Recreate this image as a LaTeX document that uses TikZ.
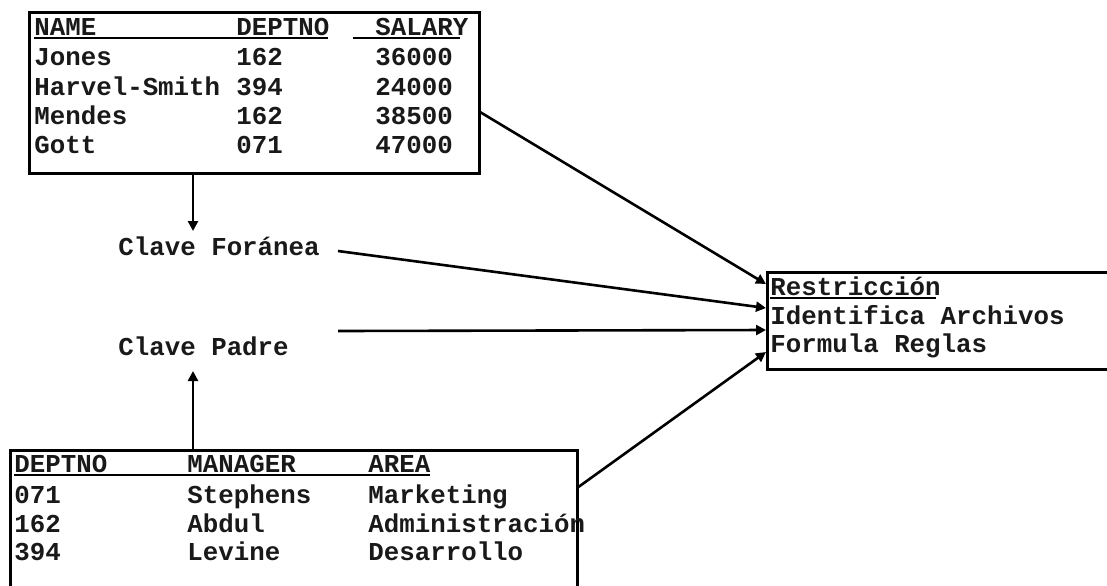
\documentclass[tikz,border=0pt]{standalone}
\usepackage{fontspec}
\setmonofont{Liberation Mono}
\usetikzlibrary{arrows.meta}
\begin{document}
\begin{tikzpicture}[x=0.5pt,y=-0.5pt,
  box/.style={draw=black, line width=1.5pt, rectangle, inner sep=0pt, outer sep=0pt, anchor=north west},
  txt/.style={anchor=base west, inner sep=0pt, font=\ttfamily\bfseries\fontsize{12.9}{14}\selectfont, text=black!90},
  uline/.style={line width=0.8pt},
  conn/.style={line width=1.3pt, -{Triangle[length=5pt,width=5pt]}}]
\useasboundingbox (0,0) rectangle (1107,585);
\clip (0,0) rectangle (1107,585);

% employee table
\node[box, minimum width=225pt, minimum height=80.5pt] (emp) at (29,12) {};
\node[txt] (h1) at (34,35) {NAME};
\node[txt] (h2) at (236,35) {DEPTNO};
\node[txt] (h3) at (375,35) {SALARY};
\draw[uline] (34,38) -- (328,38) (353,38) -- (460,38);
\node[txt] at (34,65) {Jones};        \node[txt] at (236,65) {162}; \node[txt] at (375,65) {36000};
\node[txt] at (34,95) {Harvel-Smith}; \node[txt] at (236,95) {394}; \node[txt] at (375,95) {24000};
\node[txt] at (34,124) {Mendes};      \node[txt] at (236,124) {162}; \node[txt] at (375,124) {38500};
\node[txt] at (34,153) {Gott};        \node[txt] at (236,153) {071}; \node[txt] at (375,153) {47000};

% department table
\node[box, minimum width=283.5pt, minimum height=75pt] (dept) at (10,450) {};
\node[txt] at (14,472) {DEPTNO};
\node[txt] at (187,472) {MANAGER};
\node[txt] at (368,472) {AREA};
\draw[uline] (14,475) -- (430,475);
\node[txt] at (14,503) {071}; \node[txt] at (187,503) {Stephens}; \node[txt] at (368,503) {Marketing};
\node[txt] at (14,532) {162}; \node[txt] at (187,532) {Abdul};    \node[txt] at (368,532) {Administración};
\node[txt] at (14,560) {394}; \node[txt] at (187,560) {Levine};   \node[txt] at (368,560) {Desarrollo};

% constraint box
\node[box, minimum width=173pt, minimum height=48.5pt] (rest) at (767,272) {};
\node[txt] at (770,295) {Restricción};
\draw[uline] (770,298) -- (936,298);
\node[txt] at (770,324) {Identifica Archivos};
\node[txt] at (770,352) {Formula Reglas};

% key labels
\node[txt] (fk) at (118,255) {Clave Foránea};
\node[txt] (pk) at (118,355) {Clave Padre};

% connector end points
\coordinate (empR) at (480,112);
\coordinate (empB) at (193,173);
\coordinate (fkTop) at (193,231);
\coordinate (fkR) at (338,251);
\coordinate (pkR) at (338,331);
\coordinate (pkBot) at (193,371);
\coordinate (deptT) at (193,450);
\coordinate (deptR) at (577,488);
\coordinate (r1) at (766,284);
\coordinate (r2) at (766,308);
\coordinate (r3) at (766,330);
\coordinate (r4) at (766,352);

\draw[conn] (empB) -- (fkTop);
\draw[conn] (deptT) -- (pkBot);
\draw[conn] (empR) -- (r1);
\draw[conn] (fkR) -- (r2);
\draw[conn] (pkR) -- (r3);
\draw[conn] (deptR) -- (r4);
\end{tikzpicture}
\end{document}
